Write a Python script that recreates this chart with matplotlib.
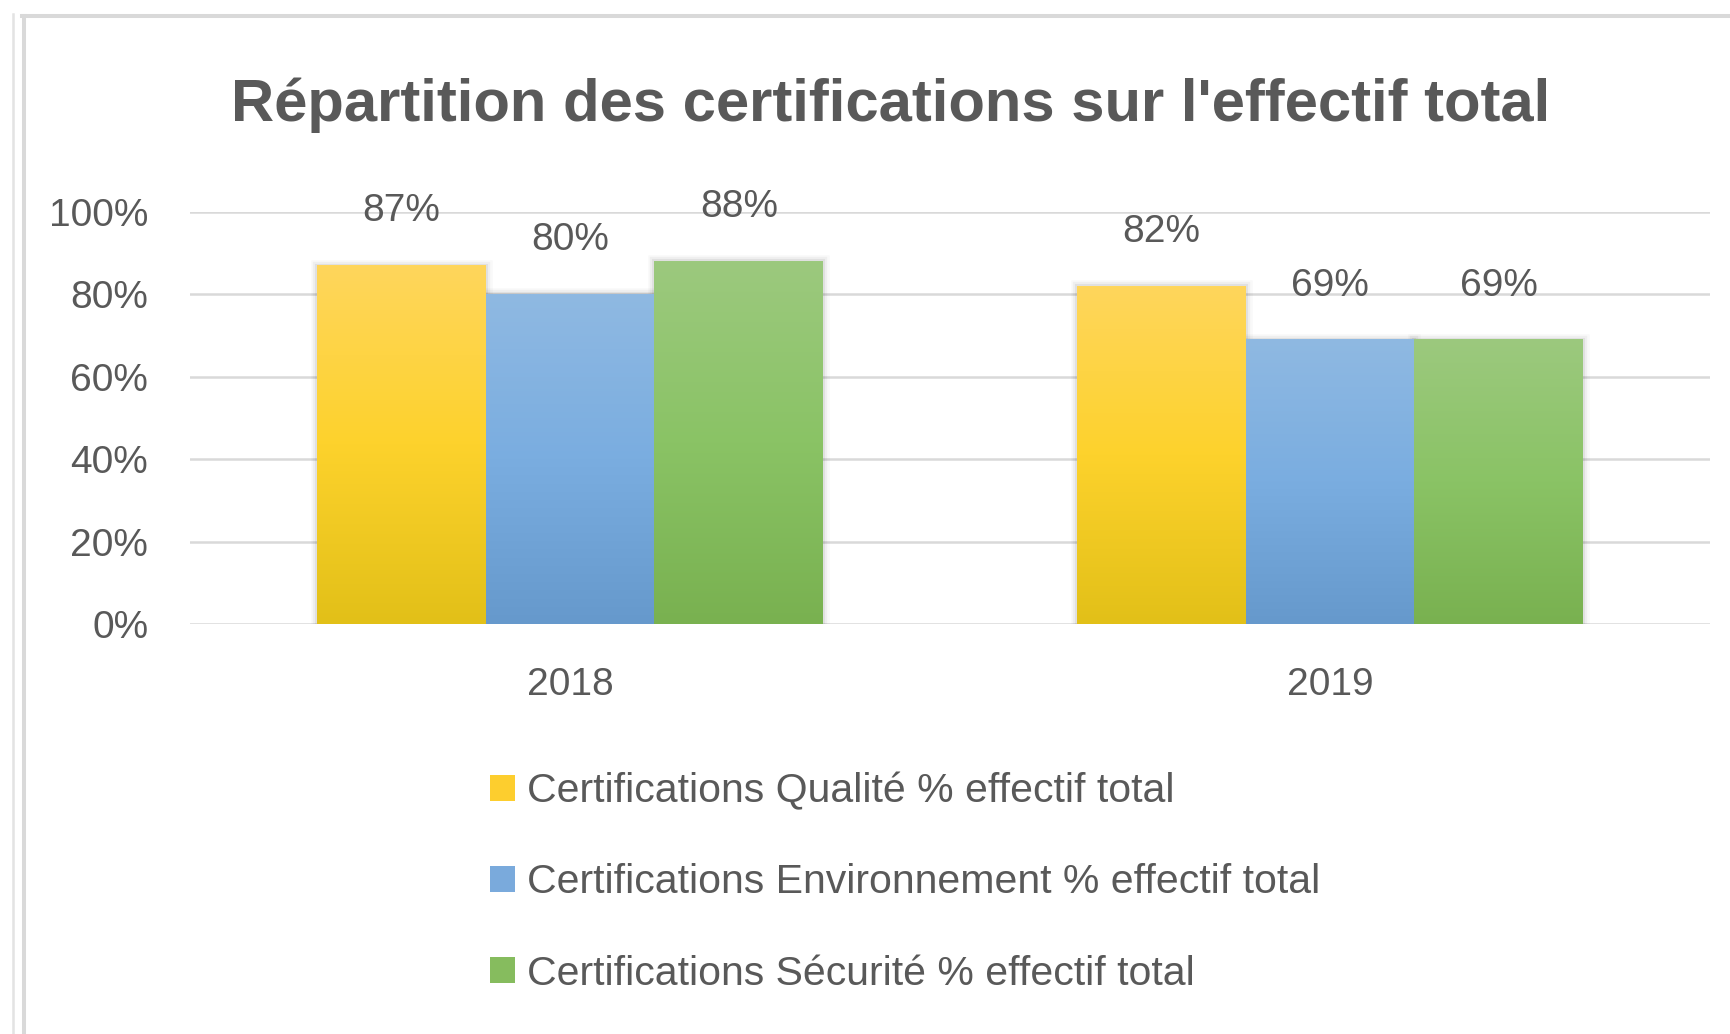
import matplotlib
matplotlib.use("Agg")
import matplotlib.pyplot as plt
import matplotlib.patheffects as pe
import numpy as np
from matplotlib.colors import LinearSegmentedColormap
from matplotlib.patches import Patch
from matplotlib.lines import Line2D

plt.rcParams['font.family'] = ['Liberation Sans', 'DejaVu Sans']

# données
years = ['2018', '2019']
qualite = [0.87, 0.82]
environnement = [0.80, 0.69]
securite = [0.88, 0.69]
series_labels = ['Certifications Qualité % effectif total',
                 'Certifications Environnement % effectif total',
                 'Certifications Sécurité % effectif total']
yticks = [0, 0.2, 0.4, 0.6, 0.8, 1.0]
ytick_labels = ['0%', '20%', '40%', '60%', '80%', '100%']

# couleurs (haut, milieu, bas) pour les dégradés façon Excel
grads = [['#FFD65C', '#FDD22C', '#E2C018'],
         ['#8FB9E2', '#7AADE0', '#6699CC'],
         ['#9CC97E', '#8AC365', '#79B150']]
mid_colors = ['#FDCE2E', '#7AAADC', '#86BC5E']
txt = '#595959'

# ombre douce autour des barres
shadow = [pe.Stroke(linewidth=9, foreground='k', alpha=0.025),
          pe.Stroke(linewidth=6, foreground='k', alpha=0.04),
          pe.Stroke(linewidth=3, foreground='k', alpha=0.06),
          pe.Normal()]

fig = plt.figure(figsize=(17.3, 10.34), dpi=100)
ax = fig.add_axes([190/1730, 1-624/1034, 1520/1730, 412/1034])

x = np.arange(len(years))
w = 1/4.5
data = [qualite, environnement, securite]

for i, vals in enumerate(data):
    bars = ax.bar(x + (i-1)*w, vals, w, color=mid_colors[i], zorder=2,
                  path_effects=shadow)
    cmap = LinearSegmentedColormap.from_list('g%d' % i, grads[i][::-1])
    grad = np.linspace(0, 1, 256).reshape(-1, 1)
    for b, v in zip(bars, vals):
        x0 = b.get_x()
        ax.imshow(grad, cmap=cmap, origin='lower', aspect='auto',
                  extent=[x0, x0 + b.get_width(), 0, b.get_height()],
                  zorder=2.5, interpolation='bilinear')
        ax.annotate('%d%%' % round(v*100), (x0 + b.get_width()/2, v),
                    xytext=(0, 39), textcoords='offset points',
                    ha='center', va='center', fontsize=28, color=txt)

ax.set_xlim(-0.5, 1.5)
ax.set_ylim(0, 1)
ax.set_yticks(yticks)
ax.set_yticklabels(ytick_labels)
ax.set_xticks(x)
ax.set_xticklabels(years)
ax.tick_params(axis='y', length=0, pad=30, labelsize=28, labelcolor=txt)
ax.tick_params(axis='x', length=0, pad=31, labelsize=28, labelcolor=txt)
ax.yaxis.grid(True, color='#D9D9D9', linewidth=1.8, zorder=0)
ax.set_axisbelow(True)
for s in ax.spines.values():
    s.set_visible(False)

fig.text(891/1730, 1-105/1034, "Répartition des certifications sur l'effectif total",
         ha='center', va='center', fontsize=43, fontweight='bold', color=txt)

handles = [Patch(facecolor=c) for c in mid_colors]
fig.legend(handles, series_labels, loc='upper left',
           bbox_to_anchor=(490/1730, 1-772/1034), frameon=False,
           fontsize=29.5, labelcolor=txt, labelspacing=1.3,
           handlelength=0.6, handleheight=0.6, handletextpad=0.3,
           borderpad=0, borderaxespad=0)

# cadre gris
fig.add_artist(Line2D([22/1730, 1], [1-16/1034, 1-16/1034], color='#D9D9D9', lw=2.9))
fig.add_artist(Line2D([24/1730, 24/1730], [0, 1-16/1034], color='#D9D9D9', lw=2.9))
fig.add_artist(Line2D([13/1730, 13/1730], [0, 1-14/1034], color='#E3E3E3', lw=1.8))

fig.savefig('out.png', dpi=100)
